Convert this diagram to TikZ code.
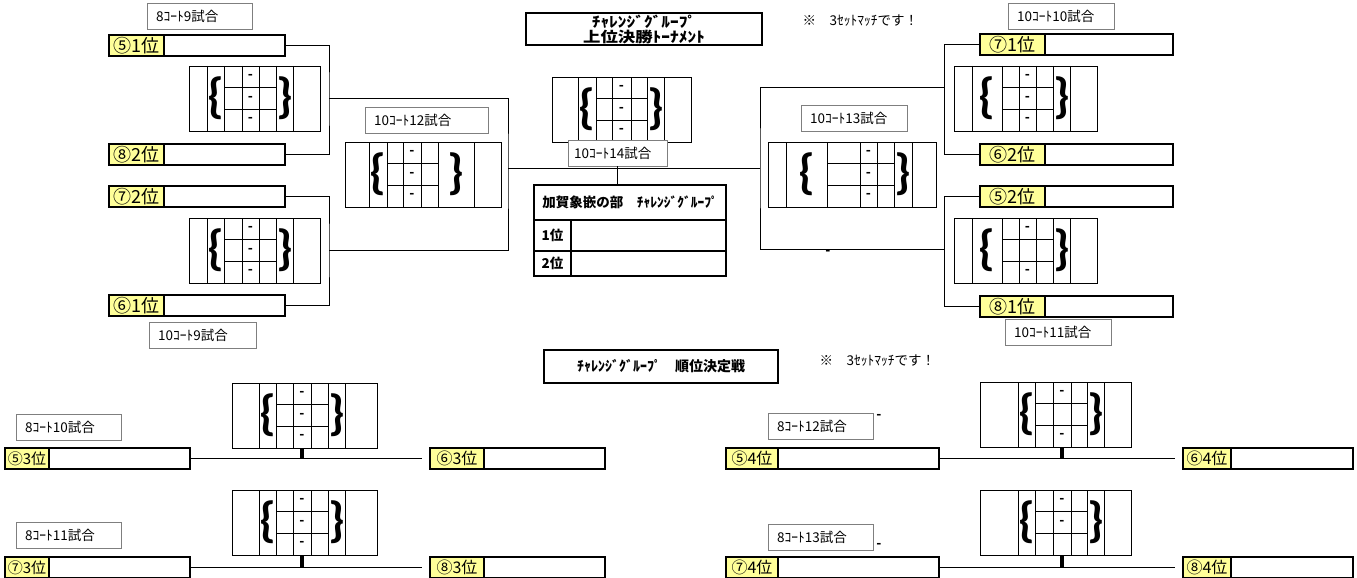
\documentclass[tikz,border=0pt]{standalone}
\usepackage{fontspec}
\setmainfont{Noto Sans CJK JP}
\newfontfamily\jpwide{Noto Sans CJK JP}[FakeStretch=1.2]
\newfontfamily\calib{Carlito}

\definecolor{rankyellow}{RGB}{255,255,153}
\definecolor{framegray}{RGB}{127,127,127}

\tikzset{
  wire/.style={line width=0.8pt},
  tick/.style={line width=3.5pt},
  slot/.style={draw, line width=2pt, anchor=north west, minimum height=21pt, inner sep=0pt},
  rank/.style={slot, fill=rankyellow, font=\fontsize{18}{18}\selectfont},
  gamebox/.style={draw=framegray, fill=white, anchor=north west, inner xsep=9pt, inner ysep=0pt,
    minimum height=26pt, align=left, font=\fontsize{13.5}{13.5}\selectfont},
  headbox/.style={draw, line width=2pt, anchor=north west, inner sep=0pt, align=center,
    font=\bfseries\fontsize{14}{15}\selectfont},
  cellbox/.style={draw, line width=2pt, anchor=north west, inner sep=0pt,
    font=\bfseries\fontsize{13.5}{14}\selectfont},
  brace/.style={inner sep=0pt, font=\calib\bfseries},
  scoredash/.style={inner sep=0pt, font=\calib\bfseries\fontsize{15}{15}\selectfont},
  note/.style={anchor=west, font=\fontsize{13.5}{13.5}\selectfont},
}

% #1 name, #2 top, #3 x0/.../x7, #4 rows with a dash
\newcommand{\scorebox}[4]{%
  \foreach \xa/\xb/\xc/\xd/\xe/\xf/\xg/\xh in {#3} {
    \node[wire, draw, anchor=north west, inner sep=0pt, minimum height=65pt,
      minimum width={(\xh-\xa)*1pt}] (#1) at (\xa,#2) {};
    \foreach \xv in {\xb,\xc,\xd,\xe,\xf,\xg}
      \draw[wire] (\xv,#2) -- (\xv,#2+65);
    \draw[wire] (\xc,#2+65/3) -- (\xf,#2+65/3);
    \draw[wire] (\xc,#2+130/3) -- (\xf,#2+130/3);
    \node[brace] (#1l) at ({(\xb+\xc)/2},#2+32.5) {\resizebox*{!}{43pt}{\{}};
    \node[brace] (#1r) at ({(\xf+\xg)/2},#2+32.5) {\resizebox*{!}{43pt}{\}}};
    \foreach \rw in {#4}
      \node[scoredash] (#1d\rw) at ({(\xd+\xe)/2},{#2+(\rw-0.5)*65/3}) {-};
    \coordinate (#1m) at ({(\xd+\xe)/2},#2+65);
  }%
}

\begin{document}
\begin{tikzpicture}[x=1pt, y=-1pt]
\useasboundingbox (0,0) rectangle (1357,578);

\scorebox{sTL}{66}{189/207/224/242/259/276/293/320}{1,2,3}
\scorebox{sLL}{218}{189/207/224/242/259/276/293/320}{1,2,3}
\scorebox{sML}{142}{345/369/387/403/421/438/474/501}{1,2,3}
\scorebox{sC}{77}{552/578/596/612/631/647/664/691}{1,2,3}
\scorebox{sMR}{142}{768/786/827/860/877/894/912/936}{1,2,3}
\scorebox{sTR}{66}{954/972/1002/1019/1036/1053/1070/1097}{1,2,3}
\scorebox{sRL}{218}{954/972/1002/1019/1036/1053/1070/1097}{1,3}
\scorebox{sB1}{383}{232/259/276/293/311/328/345/377}{1,2,3}
\scorebox{sB2}{490}{232/259/276/293/311/328/345/377}{1,2,3}
\scorebox{sB3}{382}{980/1018/1035/1053/1071/1087/1104/1131}{1,3}
\scorebox{sB4}{490}{980/1018/1035/1053/1071/1087/1104/1131}{1,2}

\node[headbox, minimum width=236pt, minimum height=32pt, font=\jpwide\bfseries\fontsize{14.5}{15}\selectfont] (title) at (525,12) {ﾁｬﾚﾝｼﾞｸﾞﾙｰﾌﾟ\\上位決勝ﾄｰﾅﾒﾝﾄ};
\node[note] (note1) at (799,21) {※　3ｾｯﾄﾏｯﾁです！};
\node[headbox, minimum width=234pt, minimum height=33pt] (title2) at (543,349) {ﾁｬﾚﾝｼﾞｸﾞﾙｰﾌﾟ　順位決定戦};
\node[note] (note2) at (816,361) {※　3ｾｯﾄﾏｯﾁです！};

\node[rank, minimum width=55pt] (r51) at (108,34) {⑤1位};
\node[slot, minimum width=176pt] (e51) at (108,34) {};
\node[rank, minimum width=55pt] (r82) at (108,143) {⑧2位};
\node[slot, minimum width=176pt] (e82) at (108,143) {};
\node[rank, minimum width=55pt] (r72) at (108,185) {⑦2位};
\node[slot, minimum width=176pt] (e72) at (108,185) {};
\node[rank, minimum width=55pt] (r61) at (108,294) {⑥1位};
\node[slot, minimum width=176pt] (e61) at (108,294) {};

\node[rank, minimum width=65pt] (r71) at (979,33) {⑦1位};
\node[slot, minimum width=193pt] (e71) at (979,33) {};
\node[rank, minimum width=65pt] (r62) at (979,143) {⑥2位};
\node[slot, minimum width=193pt] (e62) at (979,143) {};
\node[rank, minimum width=65pt] (r52) at (979,185) {⑤2位};
\node[slot, minimum width=193pt] (e52) at (979,185) {};
\node[rank, minimum width=65pt] (r81) at (979,295) {⑧1位};
\node[slot, minimum width=193pt] (e81) at (979,295) {};

\node[rank, minimum width=44pt, font=\fontsize{15}{15}\selectfont] (r53) at (4,447) {⑤3位};
\node[slot, minimum width=185pt] (e53) at (4,447) {};
\node[rank, minimum width=44pt, font=\fontsize{15}{15}\selectfont] (r73) at (4,556) {⑦3位};
\node[slot, minimum width=185pt] (e73) at (4,556) {};
\node[rank, minimum width=54pt, font=\fontsize{16}{16}\selectfont] (r63) at (429,447) {⑥3位};
\node[slot, minimum width=175pt] (e63) at (429,447) {};
\node[rank, minimum width=54pt, font=\fontsize{16}{16}\selectfont] (r83) at (429,556) {⑧3位};
\node[slot, minimum width=175pt] (e83) at (429,556) {};
\node[rank, minimum width=52pt, font=\fontsize{16}{16}\selectfont] (r54) at (725,447) {⑤4位};
\node[slot, minimum width=213pt] (e54) at (725,447) {};
\node[rank, minimum width=52pt, font=\fontsize{16}{16}\selectfont] (r74) at (725,556) {⑦4位};
\node[slot, minimum width=213pt] (e74) at (725,556) {};
\node[rank, minimum width=48pt, font=\fontsize{16}{16}\selectfont] (r64) at (1182,447) {⑥4位};
\node[slot, minimum width=170pt] (e64) at (1182,447) {};
\node[rank, minimum width=48pt, font=\fontsize{16}{16}\selectfont] (r84) at (1182,556) {⑧4位};
\node[slot, minimum width=170pt] (e84) at (1182,556) {};

\node[gamebox, text width=87pt] (g9a) at (147,3) {8ｺｰﾄ9試合};
\node[gamebox, text width=89pt] (g9b) at (149,322) {10ｺｰﾄ9試合};
\node[gamebox, text width=88pt] (g10) at (1008,3) {10ｺｰﾄ10試合};
\node[gamebox, text width=88pt] (g11) at (1005,319) {10ｺｰﾄ11試合};
\node[gamebox, text width=105pt] (g12) at (365,107) {10ｺｰﾄ12試合};
\node[gamebox, text width=88pt] (g13) at (801,105) {10ｺｰﾄ13試合};
\node[gamebox, text width=87pt, inner xsep=6pt] (g14) at (568,140) {10ｺｰﾄ14試合};
\node[gamebox, text width=87pt] (b10) at (16,414) {8ｺｰﾄ10試合};
\node[gamebox, text width=87pt] (b11) at (16,522) {8ｺｰﾄ11試合};
\node[gamebox, text width=87pt] (b12) at (768,413) {8ｺｰﾄ12試合};
\node[gamebox, text width=87pt] (b13) at (768,524) {8ｺｰﾄ13試合};

\node[scoredash] (stray1) at (828,253) {-};
\node[scoredash] (stray2) at (879,417) {-};
\node[scoredash] (stray3) at (879,546) {-};

\node[cellbox, minimum width=192pt, minimum height=35pt] (thead) at (533,184) {加賀象嵌の部　ﾁｬﾚﾝｼﾞｸﾞﾙｰﾌﾟ};
\node[cellbox, minimum width=37pt, minimum height=31pt] (t1) at (533,219) {1位};
\node[cellbox, minimum width=155pt, minimum height=31pt] (t1v) at (570,219) {};
\node[cellbox, minimum width=37pt, minimum height=25pt] (t2) at (533,250) {2位};
\node[cellbox, minimum width=155pt, minimum height=25pt] (t2v) at (570,250) {};

\coordinate (jA) at (329,98);
\coordinate (jB) at (329,250);
\coordinate (jC) at (508,168);
\coordinate (jD) at (760,168);
\coordinate (jE) at (944,87);
\coordinate (jF) at (944,249);

\draw[wire] (e51.east) -| (jA) |- (e82.east);
\draw[wire] (e72.east) -| (jB) |- (e61.east);
\draw[wire] (jA) -| (jC) |- (jB);
\draw[wire] (jC) -- (jD);
\draw[wire] (jE) -| (jD) |- (jF);
\draw[wire] (e71.west) -| (jE) |- (e62.west);
\draw[wire] (e52.west) -| (jF) |- (e81.west);
\draw[wire] (g14.south) -- (g14.south |- thead.north);

\draw[wire, shorten >=7pt] (e53.east) -- (e63.west);
\draw[wire, shorten >=7pt] (e73.east) -- (e83.west);
\draw[wire, shorten >=7pt] (e54.east) -- (e64.west);
\draw[wire, shorten >=7pt] (e74.east) -- (e84.west);
\draw[tick] (sB1m) -- (sB1m |- e53.east);
\draw[tick] (sB2m) -- (sB2m |- e73.east);
\draw[tick] (sB3m) -- (sB3m |- e54.east);
\draw[tick] (sB4m) -- (sB4m |- e74.east);
\end{tikzpicture}
\end{document}
